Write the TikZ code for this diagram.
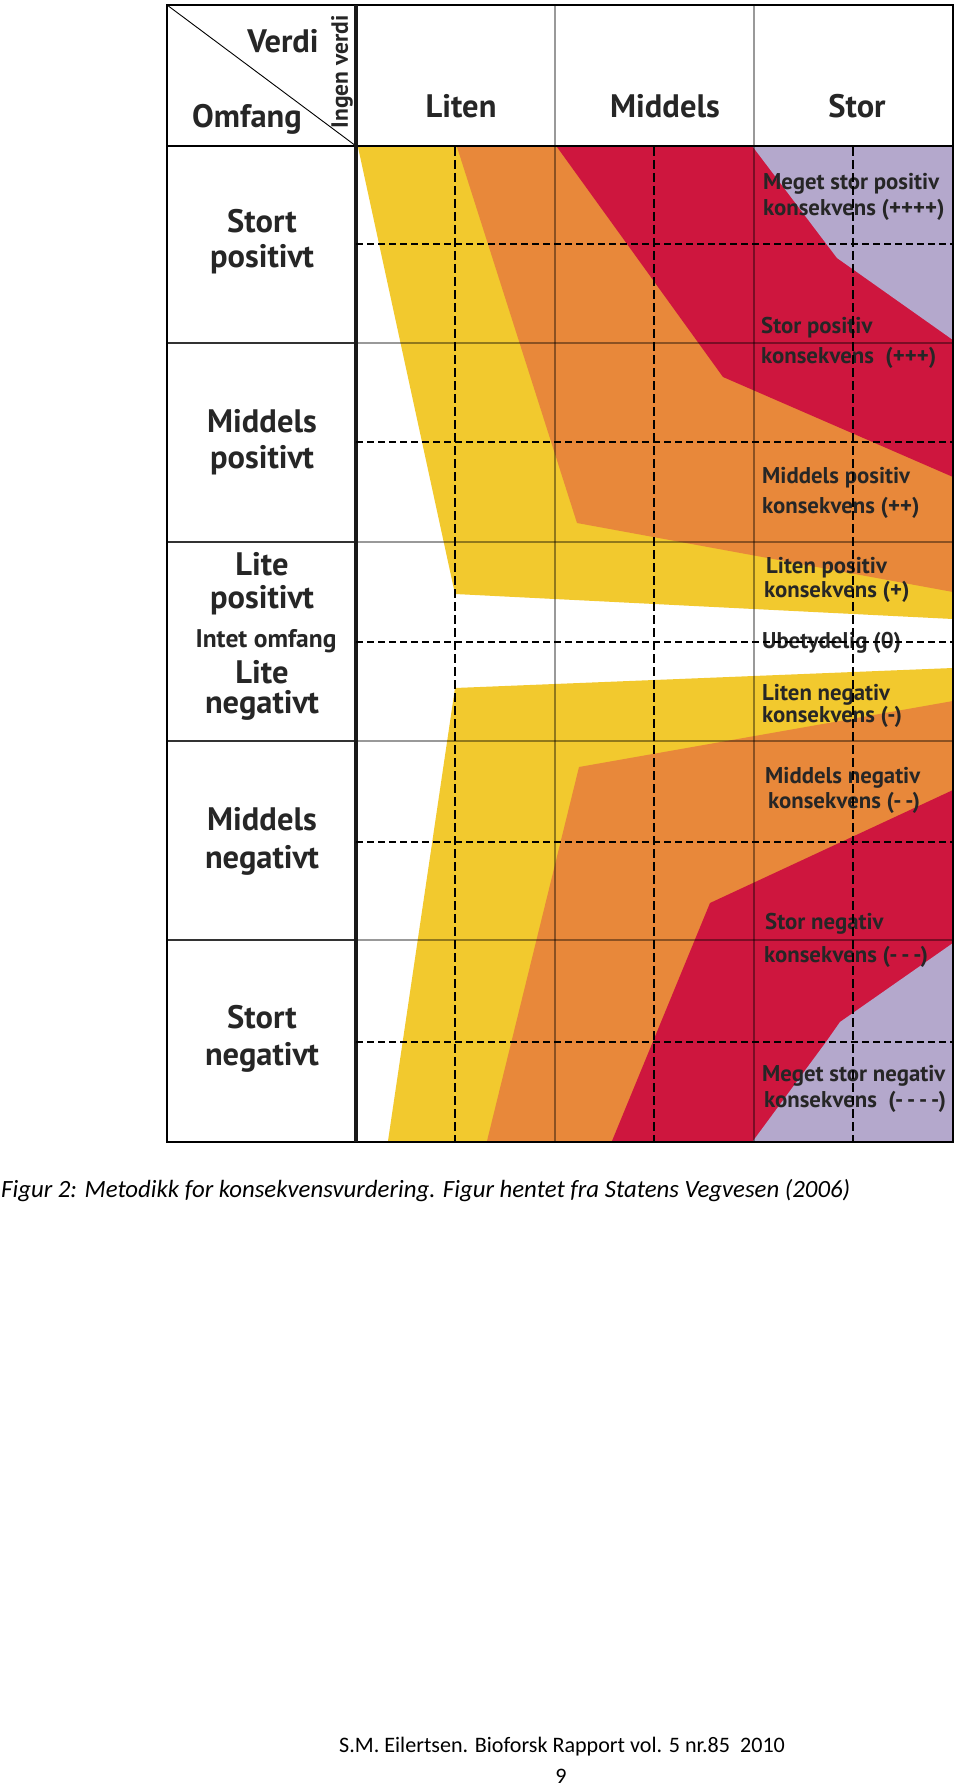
\documentclass[tikz,border=0pt]{standalone}
\usepackage{fontspec}
\setmainfont{PT Sans}
\newfontfamily\capfont{Carlito}
\definecolor{cyel}{RGB}{242,201,46}
\definecolor{corg}{RGB}{232,136,58}
\definecolor{cred}{RGB}{206,22,62}
\definecolor{clav}{RGB}{180,168,204}
\definecolor{ctxt}{RGB}{38,38,38}
\begin{document}
\begin{tikzpicture}[x=1pt,y=-1pt,
  rowlbl/.style={anchor=base,inner sep=0pt,font=\bfseries\fontsize{32.5}{38}\selectfont,text=ctxt},
  smalllbl/.style={anchor=base,inner sep=0pt,font=\bfseries\fontsize{25.5}{30}\selectfont,text=ctxt},
  hdrlbl/.style={anchor=base,inner sep=0pt,font=\bfseries\fontsize{32.5}{38}\selectfont,text=ctxt},
  cons/.style={anchor=base west,inner sep=0pt,font=\bfseries\fontsize{22.8}{26}\selectfont,text=ctxt},
  gridline/.style={black,opacity=0.4,line width=2pt},
  leftline/.style={black,opacity=0.8,line width=2pt},
  dashh/.style={black,line width=1.3pt,dash pattern=on 7pt off 4pt},
  dashv/.style={black,line width=1.2pt,dash pattern=on 9pt off 4pt}]
\useasboundingbox (0,0) rectangle (960,1787);
\fill[white] (0,0) rectangle (960,1787);
% colour zones, upper half
\fill[cyel] (358,147) -- (455,594) -- (953,619) -- (953,147) -- cycle;
\fill[corg] (457,147) -- (577,523) -- (953,592) -- (953,147) -- cycle;
\fill[cred] (557,147) -- (723,377) -- (953,477) -- (953,147) -- cycle;
\fill[clav] (753,147) -- (837,258) -- (953,340) -- (953,147) -- cycle;
% colour zones, lower half
\fill[cyel] (455,688) -- (953,668) -- (953,1141) -- (388,1141) -- cycle;
\fill[corg] (579,767) -- (953,701) -- (953,1141) -- (487,1141) -- cycle;
\fill[cred] (710,903) -- (953,790) -- (953,1141) -- (612,1141) -- cycle;
\fill[clav] (953,943) -- (840,1022) -- (826,1042) -- (753,1141) -- (953,1141) -- cycle;
% grid lines
\foreach \yy in {343,542,741,940} {
  \draw[gridline] (356,\yy) -- (953,\yy);
  \draw[leftline] (167,\yy) -- (356,\yy);
}
\foreach \xx in {555,754} \draw[gridline] (\xx,5) -- (\xx,1141);
\draw[black,line width=1.5pt] (167,146) -- (953,146);
\draw[black,line width=0.9pt] (167,5) -- (356,146);
\draw[black,line width=2.5pt] (167,5) rectangle (953,1142);
\draw[black!90,line width=4pt] (356,5) -- (356,1142);
% header
\node[hdrlbl] (verdi) at (283,53) {Verdi};
\node[hdrlbl] (omfang) at (247,128) {Omfang};
\node[inner sep=0pt,rotate=90,font=\bfseries\fontsize{23.5}{28}\selectfont,text=ctxt] (ingen) at (342,72) {Ingen verdi};
\node[hdrlbl] (liten) at (461,118) {Liten};
\node[hdrlbl] (middels) at (665,118) {Middels};
\node[hdrlbl] (stor) at (857,118) {Stor};
% row labels
\node[rowlbl] (sp1) at (262,233) {Stort};
\node[rowlbl] (sp2) at (262,268) {positivt};
\node[rowlbl] (mp1) at (262,432) {Middels};
\node[rowlbl] (mp2) at (262,468) {positivt};
\node[rowlbl] (lp1) at (262,575) {Lite};
\node[rowlbl] (lp2) at (262,608) {positivt};
\node[smalllbl] (io) at (266,647) {Intet omfang};
\node[rowlbl] (ln1) at (262,683) {Lite};
\node[rowlbl] (ln2) at (262,713) {negativt};
\node[rowlbl] (mn1) at (262,830) {Middels};
\node[rowlbl] (mn2) at (262,868) {negativt};
\node[rowlbl] (sn1) at (262,1028) {Stort};
\node[rowlbl] (sn2) at (262,1065) {negativt};
% consequence labels
\node[cons] (c1a) at (763,190) {Meget stor positiv};
\node[cons] (c1b) at (763,216) {konsekvens (++++)};
\node[cons] (c2a) at (761,333) {Stor positiv};
\node[cons] (c2b) at (761,363) {konsekvens\ \ (+++)};
\node[cons] (c3a) at (762,483) {Middels positiv};
\node[cons] (c3b) at (762,513) {konsekvens (++)};
\node[cons] (c4a) at (766,573) {Liten positiv};
\node[cons] (c4b) at (764,597) {konsekvens (+)};
\node[cons] (c5) at (762,648) {Ubetydelig (0)};
\node[cons] (c6a) at (762,700) {Liten negativ};
\node[cons] (c6b) at (762,722) {konsekvens (-)};
\node[cons] (c7a) at (765,783) {Middels negativ};
\node[cons] (c7b) at (768,808) {konsekvens (-\,-)};
\node[cons] (c8a) at (765,929) {Stor negativ};
\node[cons] (c8b) at (764,962) {konsekvens (-\,-\,-)};
\node[cons] (c9a) at (762,1081) {Meget stor negativ};
\node[cons] (c9b) at (764,1107) {konsekvens\ \ (-\,-\,-\,-)};
% dashed lines
\foreach \yy in {244,442,642,842,1042} \draw[dashh] (356,\yy) -- (953,\yy);
\foreach \xx in {455,654,853} \draw[dashv] (\xx,147) -- (\xx,1141);
% caption and footer
\node[anchor=base west,inner sep=0pt,font=\capfont\itshape\fontsize{24.8}{30}\selectfont] (cap) at (1,1197) {Figur 2: Metodikk for konsekvensvurdering. Figur hentet fra Statens Vegvesen (2006)};
\node[anchor=base west,inner sep=0pt,font=\capfont\fontsize{22.1}{27}\selectfont] (foot) at (339,1752) {S.M. Eilertsen. Bioforsk Rapport vol. 5 nr.85\ \ 2010};
\node[anchor=base,inner sep=0pt,font=\capfont\fontsize{22.1}{27}\selectfont] (page) at (561,1783) {9};
\end{tikzpicture}
\end{document}
